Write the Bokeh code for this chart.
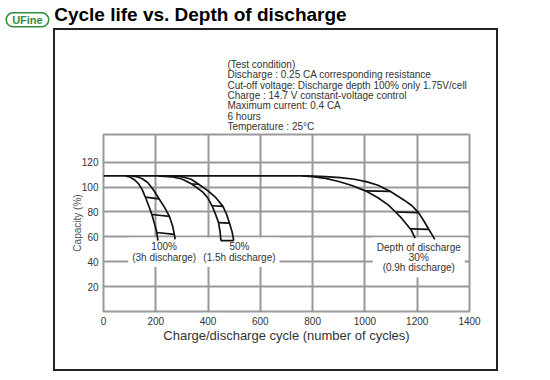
from bokeh.plotting import figure
from bokeh.models import FixedTicker, Label, Range1d, InlineStyleSheet
from bokeh.core.properties import value
from bokeh.embed import file_html
from bokeh.resources import INLINE

# ---- data ----
x_ticks = [0, 200, 400, 600, 800, 1000, 1200, 1400]
y_ticks = [20, 40, 60, 80, 100, 120]

# Depth of discharge 100 % (3h discharge) band
l100_x = [83, 100, 118, 134, 148, 160, 173, 185, 196, 204, 208]
l100_y = [109, 108.3, 106, 102.7, 98, 92, 85, 78, 70, 63.5, 57]
r100_x = [109, 130, 150, 170, 192, 213, 234, 252, 264, 271, 274]
r100_y = [109, 108.3, 106.5, 103.5, 97.5, 90.5, 83.5, 76.5, 69, 62, 58]
h100_x0 = [160, 185, 204]
h100_y0 = [92, 78, 63.5]
h100_x1 = [213, 252, 271]
h100_y1 = [90.5, 76.5, 62]

# Depth of discharge 50 % (1.5h discharge) band
l50_x = [210, 260, 300, 338, 380, 400, 415, 428, 440, 446, 449]
l50_y = [109, 108.3, 106.5, 102.5, 96, 91, 85, 78.5, 71.5, 64, 57]
r50_x = [265, 300, 335, 364, 400, 430, 457, 471, 482, 492, 498]
r50_y = [109, 108.3, 106.3, 102.3, 97, 91.5, 84.5, 78, 71, 64, 57]
h50_x0 = [338, 415, 440, 449]
h50_y0 = [102.5, 85, 71.5, 57]
h50_x1 = [364, 457, 482, 498]
h50_y1 = [102.3, 84.5, 71, 57]

# Depth of discharge 30 % (0.9h discharge) band
r30_x = [0, 780, 850, 906, 960, 1008, 1050, 1098, 1150, 1180, 1205, 1225, 1243, 1256, 1267]
r30_y = [109, 109, 108.5, 107.7, 106.3, 104.2, 101.5, 96.5, 89.5, 85, 79.5, 73, 66.5, 62, 58]
l30_x = [760, 800, 850, 900, 950, 1002, 1050, 1090, 1117, 1140, 1160, 1177, 1192]
l30_y = [109, 108.5, 107, 104.5, 101.3, 97, 91.5, 85.5, 80, 75, 70, 65.5, 59]
h30_x0 = [1002, 1117, 1175]
h30_y0 = [97, 80, 66.5]
h30_x1 = [1098, 1205, 1243]
h30_y1 = [96.5, 79.5, 66]

lab_x = [232, 520, 1206]
lab_y = [47.7, 47.7, 43.4]
lab_text = ["100%\n(3h discharge)", "50%\n(1.5h discharge)",
            "Depth of discharge\n30%\n(0.9h discharge)"]

title_text = "Cycle life vs. Depth of discharge"
logo_text = "UFine"
cond_text = ("(Test condition)\n"
             "Discharge : 0.25 CA corresponding resistance\n"
             "Cut-off voltage: Discharge depth 100% only 1.75V/cell\n"
             "Charge : 14.7 V constant-voltage control\n"
             "Maximum current: 0.4 CA\n"
             "6 hours\n"
             "Temperature : 25°C")

FONT = "Liberation Sans"
GRID = "#999999"
INK = "#111111"
TXT = "#333333"

frame_css = InlineStyleSheet(css="""
:host { position: relative; }
:host::after {
  content: ""; position: absolute; left: 53px; top: 28px; width: 445px; height: 343px;
  border: 2px solid #222; box-sizing: border-box; pointer-events: none;
}
""")

p = figure(width=550, height=380, x_range=Range1d(0, 1400), y_range=Range1d(0, 142.3),
           output_backend="svg", toolbar_location=None, title=None,
           min_border_left=103, min_border_right=81, min_border_top=134, min_border_bottom=69,
           stylesheets=[frame_css])
p.background_fill_color = "white"
p.border_fill_color = "white"
p.outline_line_color = GRID
p.outline_line_width = 2

p.xaxis.ticker = FixedTicker(ticks=x_ticks)
p.yaxis.ticker = FixedTicker(ticks=y_ticks)
for ax in (p.xaxis, p.yaxis):
    ax.axis_line_color = None
    ax.major_tick_line_color = None
    ax.minor_tick_line_color = None
    ax.major_tick_out = 0
    ax.major_tick_in = 0
    ax.major_label_standoff = 5
    ax.major_label_text_font = FONT
    ax.major_label_text_font_size = "10px"
    ax.major_label_text_color = TXT
    ax.axis_label_text_font = FONT
    ax.axis_label_text_font_style = "normal"

p.xaxis.axis_label = "Charge/discharge cycle (number of cycles)"
p.xaxis.axis_label_text_font_size = "13px"
p.xaxis.axis_label_text_color = TXT
p.xaxis.axis_label_standoff = 0
p.yaxis.axis_label = "Capacity (%)"
p.yaxis.axis_label_text_font_size = "10px"
p.yaxis.axis_label_text_color = "#555555"
p.yaxis.axis_label_standoff = -4

p.grid.grid_line_color = GRID
p.grid.grid_line_width = 2

# labels with white boxes (drawn before curves)
p.text(x=lab_x, y=lab_y, text=lab_text, text_align="center", text_baseline="middle",
       text_font=value(FONT), text_font_size="10px", text_color=TXT, text_line_height=0.95,
       background_fill_color="white", padding=4)

for xs, ys in [(l100_x, l100_y), (r100_x, r100_y), (l50_x, l50_y), (r50_x, r50_y),
               (r30_x, r30_y), (l30_x, l30_y)]:
    p.line(xs, ys, line_color=INK, line_width=1.7)
for x0, y0, x1, y1 in [(h100_x0, h100_y0, h100_x1, h100_y1),
                       (h50_x0, h50_y0, h50_x1, h50_y1),
                       (h30_x0, h30_y0, h30_x1, h30_y1)]:
    p.segment(x0, y0, x1, y1, line_color=INK, line_width=1.7)

# texts above the plot frame live in the "above" panel (not clipped)
p.add_layout(Label(x=474, y=203, text=cond_text, text_align="left", text_baseline="top",
                   text_font=FONT, text_font_size="10px", text_color=TXT,
                   text_line_height=0.94), "above")

p.add_layout(Label(x=-188.7, y=238.7, text=title_text, text_align="left", text_baseline="middle",
                   text_font=FONT, text_font_size="19px", text_font_style="bold",
                   text_color="black"), "above")

p.add_layout(Label(x=-291, y=234.5, text=logo_text, text_align="center", text_baseline="middle",
                   text_font=FONT, text_font_size="11px", text_font_style="bold",
                   text_color="#2f8f3f", border_line_color="#2f8f3f", border_line_width=1.5,
                   border_radius=9, padding=dict(left=6, right=6, top=1, bottom=1)), "above")

open("out.html", "w").write(file_html(p, INLINE))
